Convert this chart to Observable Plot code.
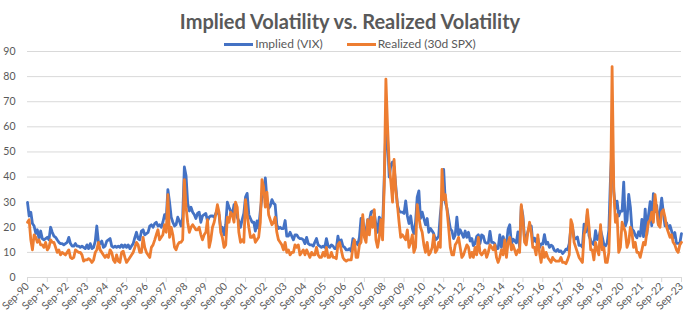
<!DOCTYPE html>
<html>
<head>
<meta charset="utf-8">
<script src="https://cdn.jsdelivr.net/npm/d3@7"></script>
<script src="https://cdn.jsdelivr.net/npm/@observablehq/plot@0.6"></script>
<style>
  html, body { margin: 0; padding: 0; background: #fff; }
  #wrap { position: relative; width: 700px; height: 322px; overflow: hidden; font-family: Lato, "Open Sans", sans-serif; color: #595959; }
  #title { position: absolute; left: 0; width: 700px; top: 9px; text-align: center; font-weight: bold; font-size: 20px; color: #595959; }
  #legend { position: absolute; left: 0; width: 700px; top: 36px; text-align: center; font-size: 12px; color: #595959; white-space: nowrap; }
  .sw { display: inline-block; width: 29px; height: 3px; vertical-align: middle; margin-right: 2px; }
  .item { display: inline-block; margin: 0 12px; }
  #chart { position: absolute; left: 0; top: 0; }
</style>
</head>
<body>
<div id="wrap">
  <div id="chart"></div>
  <div id="title"></div>
  <div id="legend"></div>
</div>
<script>
// ---- Data (monthly, starting Sep-1990) ----
const startYear = 1990, startMonth = 8; // September (0-based)
const seriesNames = ["Implied (VIX)", "Realized (30d SPX)"];
const seriesColors = ["#4472C4", "#ED7D31"];
const titleText = "Implied Volatility vs. Realized Volatility";
const yTicks = [0, 10, 20, 30, 40, 50, 60, 70, 80, 90];
const xTickYears = d3.range(1990, 2024);

const implied = [
  29.9, 24.5, 26.0, 21.5,                                             // 1990 Sep-Dec
  20.5, 17.5, 19.0, 15.5, 18.5, 15.5, 15.0, 15.5, 16.0, 15.0, 20.0, 18.0, // 1991
  16.5, 16.0, 15.0, 14.0, 13.5, 13.5, 13.0, 13.5, 14.0, 16.0, 13.5, 12.5, // 1992
  12.5, 13.5, 12.5, 12.5, 12.0, 12.5, 12.0, 11.5, 13.0, 11.5, 13.5, 11.5, // 1993
  12.0, 14.5, 20.5, 14.0, 13.5, 14.5, 12.0, 12.5, 14.5, 15.0, 15.5, 12.5, // 1994
  12.0, 12.5, 12.0, 12.5, 12.0, 13.0, 12.0, 13.0, 12.0, 13.0, 11.5, 12.5, // 1995
  13.5, 16.0, 18.0, 15.5, 15.0, 18.5, 19.0, 17.0, 17.5, 18.0, 20.5, 21.0, // 1996
  20.0, 21.5, 22.0, 20.5, 21.0, 20.0, 22.0, 25.0, 23.5, 35.0, 30.0, 24.0, // 1997
  22.0, 20.5, 21.0, 24.0, 22.5, 20.5, 24.0, 44.0, 40.5, 29.5, 26.5, 28.0, // 1998
  26.0, 25.0, 23.5, 25.5, 26.0, 22.0, 24.5, 25.0, 25.5, 22.5, 24.0, 24.5, // 1999
  24.5, 24.0, 25.5, 26.0, 25.0, 19.5, 20.0, 17.0, 21.0, 30.0, 28.0, 26.5, // 2000
  25.0, 29.0, 28.5, 24.0, 22.5, 20.0, 23.0, 25.5, 32.0, 33.5, 25.0, 23.5, // 2001
  22.0, 22.0, 18.5, 22.5, 19.5, 26.5, 32.0, 32.5, 39.7, 31.0, 27.5, 28.5, // 2002
  31.0, 29.5, 29.0, 21.0, 19.5, 20.0, 19.5, 19.5, 22.7, 16.5, 16.5, 18.0, // 2003
  16.5, 15.0, 17.0, 17.0, 16.0, 15.5, 15.5, 15.0, 13.5, 16.0, 13.5, 13.0, // 2004
  13.0, 12.5, 14.0, 15.5, 13.0, 12.5, 12.0, 12.5, 12.0, 15.5, 12.5, 12.0, // 2005
  13.0, 12.5, 11.5, 11.5, 16.5, 13.0, 15.0, 12.5, 12.0, 11.0, 11.0, 11.5, // 2006
  10.5, 15.5, 14.5, 14.0, 13.0, 16.0, 23.5, 23.5, 18.0, 18.5, 23.0, 22.5, // 2007
  26.0, 26.5, 25.5, 21.0, 18.0, 24.0, 23.0, 20.5, 39.5, 59.9, 55.0, 40.0, // 2008
  44.8, 46.0, 44.0, 36.5, 29.0, 26.5, 26.0, 26.0, 25.5, 30.5, 24.5, 21.5, // 2009
  24.5, 19.5, 17.5, 22.0, 32.0, 34.5, 23.5, 26.0, 23.5, 21.0, 23.5, 18.0, // 2010
  19.5, 18.5, 17.5, 15.0, 15.5, 16.5, 25.0, 31.5, 43.0, 30.0, 27.5, 23.5, // 2011
  19.5, 18.5, 15.5, 17.0, 24.0, 17.0, 19.0, 17.5, 16.0, 18.5, 16.0, 18.0, // 2012
  14.5, 15.5, 12.7, 13.5, 16.3, 17.0, 13.5, 17.0, 16.5, 14.0, 13.7, 13.7, // 2013
  18.4, 14.0, 14.0, 13.4, 11.4, 11.6, 17.0, 12.0, 16.3, 14.0, 13.3, 19.2, // 2014
  21.0, 13.3, 15.3, 14.6, 13.8, 18.2, 12.1, 28.4, 24.5, 15.1, 16.1, 18.2, // 2015
  20.2, 20.5, 14.0, 15.7, 14.2, 15.6, 11.9, 13.4, 13.3, 17.1, 13.3, 14.0, // 2016
  12.0, 12.9, 12.4, 10.8, 10.4, 11.2, 10.3, 10.6,  9.5, 10.2, 11.3, 11.0, // 2017
  13.5, 19.9, 20.0, 15.9, 15.4, 16.1, 12.8, 12.9, 12.1, 21.2, 18.1, 25.4, // 2018
  16.6, 14.8, 13.7, 13.1, 18.7, 15.1, 16.1, 19.0, 16.2, 13.2, 12.6, 13.8, // 2019
  18.8, 40.1, 53.5, 34.2, 27.5, 30.4, 24.5, 26.4, 26.4, 38.0, 20.6, 22.8, // 2020
  33.1, 28.0, 19.4, 18.6, 16.8, 15.8, 18.2, 16.5, 23.1, 16.3, 27.2, 17.2, // 2021
  24.8, 30.2, 20.6, 33.4, 26.2, 28.7, 21.3, 25.9, 31.6, 25.9, 20.6, 21.7, // 2022
  19.4, 20.7, 18.7, 15.8, 17.9, 13.6, 13.6, 13.6, 17.5                    // 2023 Jan-Sep
];

const realized = [
  22, 23, 15, 11,                                         // 1990 Sep-Dec
  17, 16, 14, 15, 13, 13, 12, 14, 11, 12, 15, 14,         // 1991
  14, 12, 10, 11, 9, 10, 9.5, 9, 10, 11, 8, 7.5,          // 1992
  8, 11, 10.5, 10, 10, 9, 6.5, 7, 7, 7.5, 7, 6,           // 1993
  7, 10, 11, 14, 11, 10, 9, 8, 9, 8, 11, 10,              // 1994
  7, 6, 9, 6.5, 6, 10, 10.5, 8, 6, 7, 8, 9,               // 1995
  10, 12, 14, 13, 10, 10, 16, 12, 10, 9, 8, 12,           // 1996
  13, 15, 17, 19, 15, 16, 17, 21, 18, 33, 16, 20,         // 1997
  17, 12, 11, 13, 14, 14, 15, 39, 28, 22, 18, 20,         // 1998
  21, 20, 19, 19, 20, 17, 15, 17, 18, 23, 12, 15,         // 1999
  20, 22, 25, 29, 26, 18, 16, 12, 13, 24, 22, 26,         // 2000
  25, 22, 30, 28, 18, 14, 15, 14, 31, 25, 20, 16,         // 2001
  16, 17, 14, 15, 16, 22, 39, 36, 28, 34, 25, 23,         // 2002
  21, 22, 24, 18, 15, 14, 13, 11, 14, 10, 11, 9,          // 2003
  10, 10, 13, 12, 13, 9, 10, 11, 9, 11, 9.5, 8,           // 2004
  10, 9, 9, 12, 9, 8, 8, 10, 8.5, 12, 8, 8,               // 2005
  10, 8, 8, 7.5, 13, 14, 11, 8, 7, 6.5, 7, 7,             // 2006
  7, 12, 15, 8, 8, 13, 14, 25, 16, 14, 23, 17,            // 2007
  24, 20, 27, 15, 12, 16, 23, 15, 37, 79, 60, 45,         // 2008
  38, 30, 47, 35, 29, 22, 16, 17, 16, 15, 19, 12,         // 2009
  14, 17, 10, 12, 29, 24, 20, 18, 13, 10, 14, 9,          // 2010
  10, 12, 17, 10, 11, 14, 12, 43, 31, 33, 27, 20,         // 2011
  12, 9, 9, 13, 14, 16, 12, 8, 9, 11, 13, 12,             // 2012
  8, 10, 8, 12, 9, 16, 10, 9, 10, 11, 8, 10,              // 2013
  13, 12, 11, 13, 8, 6, 8, 11, 9, 15, 8, 14,              // 2014
  16, 11, 13, 11, 9, 11, 10, 29, 23, 14, 13, 18,          // 2015
  22, 18, 12, 12, 9, 17, 10, 6, 12, 8, 10, 8,             // 2016
  7, 6, 8, 7, 6.5, 6.5, 6.5, 8, 6, 6, 5.5, 7,             // 2017
  9, 23, 21, 14, 12, 10, 8, 7, 6, 17, 20, 27,             // 2018
  20, 11, 11, 7, 14, 11, 9, 21, 11, 12, 6, 6,             // 2019
  10, 30, 84, 35, 22, 25, 10, 12, 22, 20, 18, 12,         // 2020
  14, 20, 18, 12, 14, 10, 10, 8, 11, 14, 13, 18,          // 2021
  22, 23, 26, 22, 33, 27, 21, 20, 26, 27, 24, 20,         // 2022
  18, 16, 17, 14, 13, 11, 10, 13, 14                      // 2023 Jan-Sep
];

// ---- Build table ----
const start = new Date(Date.UTC(startYear, startMonth, 1));
const rows = implied.map((v, i) => ({ date: d3.utcMonth.offset(start, i), implied: v, realized: realized[i] }));
const end = rows[rows.length - 1].date;
const xTicks = xTickYears.map(y => new Date(Date.UTC(y, 8, 1)));

const chart = Plot.plot({
  width: 700,
  height: 322,
  marginTop: 51,
  marginBottom: 45,
  marginLeft: 27,
  marginRight: 19,
  style: { fontFamily: "Lato, 'Open Sans', sans-serif", fontSize: "10.5px", color: "#595959", background: "transparent" },
  x: { type: "utc", domain: [start, end] },
  y: { domain: [0, 90] },
  marks: [
    Plot.gridY(yTicks.filter(d => d > 0), { stroke: "#d9d9d9", strokeOpacity: 1, strokeWidth: 1 }),
    Plot.ruleY([0], { stroke: "#d9d9d9", strokeWidth: 1 }),
    Plot.axisY(yTicks, { tickSize: 0, tickPadding: 12, label: null, fill: "#595959" }),
    Plot.axisX(xTicks, { tickFormat: d3.utcFormat("%b-%y"), tickRotate: -45, tickSize: 5, tickPadding: 2, stroke: "#d9d9d9", label: null, fill: "#595959" }),
    Plot.lineY(rows, { x: "date", y: "implied", stroke: seriesColors[0], strokeWidth: 2.8 }),
    Plot.lineY(rows, { x: "date", y: "realized", stroke: seriesColors[1], strokeWidth: 2.8 })
  ]
});
document.getElementById("chart").appendChild(chart);

document.getElementById("title").textContent = titleText;
const legend = document.getElementById("legend");
seriesNames.forEach((name, i) => {
  const item = document.createElement("span");
  item.className = "item";
  const sw = document.createElement("span");
  sw.className = "sw";
  sw.style.background = seriesColors[i];
  item.appendChild(sw);
  item.appendChild(document.createTextNode(name));
  legend.appendChild(item);
});
</script>
</body>
</html>
